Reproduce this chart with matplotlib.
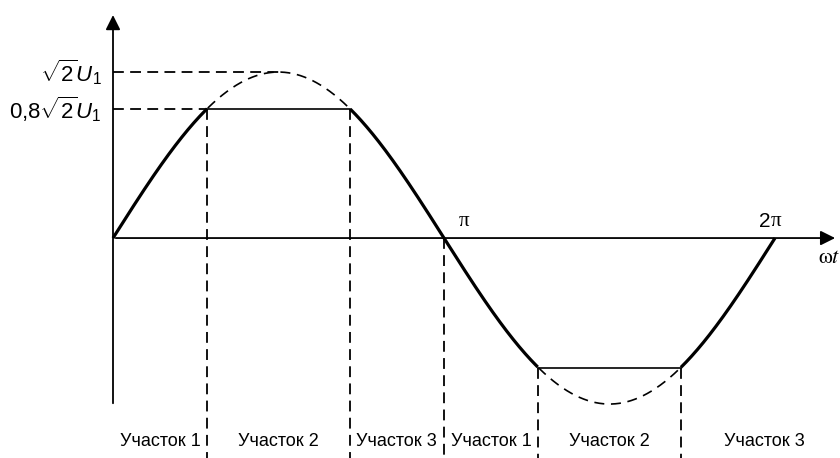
import numpy as np
import matplotlib.pyplot as plt

# waveform parameters (amplitude = sqrt(2)*U1 normalised to 1)
amp = 1.0
clip = 0.78
section_labels = ['Участок 1', 'Участок 2', 'Участок 3', 'Участок 1', 'Участок 2', 'Участок 3']
ytick_values = [1.0, clip]
ytick_labels = [r'$\sqrt{2}U_1$', r'$0{,}8\sqrt{2}U_1$']

plt.rcParams['font.family'] = ['Liberation Sans', 'DejaVu Sans']
plt.rcParams['mathtext.fontset'] = 'custom'
plt.rcParams['mathtext.rm'] = 'Liberation Sans'
plt.rcParams['mathtext.it'] = 'Liberation Sans:italic'

fig = plt.figure(figsize=(8.4, 4.58), dpi=100)
ax = fig.add_axes([0, 0, 1, 1])
ax.set_xlim(-1.0725, 6.90)
ax.set_ylim(-1.325, 1.434)
ax.axis('off')

t = np.linspace(0, 2 * np.pi, 1000)
u = amp * np.sin(t)
uc = np.clip(u, -clip, clip)

a1 = np.arcsin(clip / amp)
bounds = [0, a1, np.pi - a1, np.pi, np.pi + a1, 2 * np.pi - a1, 2 * np.pi + 0.69]

# unclipped sine (dashed) where it exceeds the limit
top = (t > a1) & (t < np.pi - a1)
bot = (t > np.pi + a1) & (t < 2 * np.pi - a1)
ax.plot(t[top], u[top], color='black', lw=1.2, dashes=(6, 4))
ax.plot(t[bot], u[bot], color='black', lw=1.2, dashes=(6, 4))

# clipped output: bold slopes, thin flat tops
bold = ~(top | bot)
ub = np.where(bold, uc, np.nan)
ax.plot(t, ub, color='black', lw=2.3, solid_capstyle='butt')
ax.plot([a1, np.pi - a1], [clip, clip], color='black', lw=1.2)
ax.plot([np.pi + a1, 2 * np.pi - a1], [-clip, -clip], color='black', lw=1.2)

# axes with arrows
ax.annotate('', xy=(0, 1.36), xytext=(0, -1.012),
            arrowprops=dict(arrowstyle='-|>', color='black', lw=1.3, mutation_scale=22))
ax.annotate('', xy=(6.88, 0), xytext=(0, 0),
            arrowprops=dict(arrowstyle='-|>', color='black', lw=1.3, mutation_scale=22))

# horizontal dashed guides
ax.plot([0, np.pi / 2], [amp, amp], color='black', lw=1.3, dashes=(6, 3.5))
ax.plot([0, a1], [clip, clip], color='black', lw=1.3, dashes=(6, 3.5))

# vertical dashed section boundaries
ylow = -1.325
for x, y0 in [(a1, clip), (np.pi - a1, clip), (np.pi, 0),
              (np.pi + a1, -clip), (2 * np.pi - a1, -clip)]:
    ax.plot([x, x], [y0, ylow], color='black', lw=1.3, dashes=(6, 3.5))

# y labels
for v, lab in zip(ytick_values, ytick_labels):
    ax.text(-0.11, v, lab, ha='right', va='center', fontsize=16)

# x labels
ax.text(np.pi + 0.14, 0.1, 'π', ha='left', va='center', fontsize=15, family='Liberation Serif')
ax.text(2 * np.pi - 0.04, 0.1, '2', ha='right', va='center', fontsize=15)
ax.text(2 * np.pi - 0.04, 0.1, 'π', ha='left', va='center', fontsize=15, family='Liberation Serif')
ax.text(6.69, -0.12, r'$\mathrm{ω}t$', ha='left', va='center', fontsize=16, math_fontfamily='stix')

# section labels
for i, lab in enumerate(section_labels):
    xc = (bounds[i] + bounds[i + 1]) / 2
    ax.text(xc, -1.223, lab, ha='center', va='center', fontsize=13)

fig.savefig('out.png', dpi=100)
